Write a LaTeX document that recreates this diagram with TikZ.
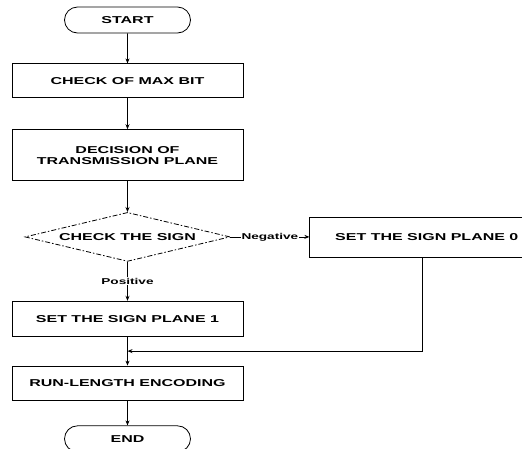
\documentclass[tikz,border=0pt]{standalone}
\usepackage{fontspec}
\newfontfamily\flowfont{Liberation Sans}[FakeStretch=1.6]
\usetikzlibrary{shapes.geometric, shapes.misc, arrows.meta, positioning, calc}

\begin{document}
\begin{tikzpicture}[
  node distance=30pt,
  every node/.style={font=\flowfont\bfseries\fontsize{10}{11}\selectfont},
  term/.style={rounded rectangle, draw, line width=0.8pt,
               minimum width=126pt, minimum height=26pt, inner sep=0pt},
  box/.style={rectangle, draw, line width=0.8pt, align=center,
              minimum width=231pt, minimum height=34pt, inner sep=0pt},
  test/.style={diamond, draw, line width=0.8pt, aspect=4.18, inner sep=0pt,
               minimum width=205pt, minimum height=49pt,
               dash pattern=on 5pt off 2pt on 1.5pt off 2pt},
  lbl/.style={font=\flowfont\bfseries\fontsize{8.5}{10}\selectfont,
              fill=white, inner sep=1pt},
  arr/.style={-{Stealth[length=5pt, width=4pt]}, line width=0.8pt}
]
  \useasboundingbox (0,0) rectangle (522pt,-448pt);
  \node[term] (start) at (127.5pt,-20pt) {START};
  \node[box, below=30pt of start] (maxbit) {CHECK OF MAX BIT};
  \node[box, below=31pt of maxbit, minimum height=51pt] (plane)
    {DECISION OF\\TRANSMISSION PLANE};
  \node[test, below=31pt of plane] (sign) {CHECK THE SIGN};
  \node[box, below=39pt of sign, minimum height=35pt] (plane1) {SET THE SIGN PLANE 1};
  \node[box, below=29pt of plane1] (rle) {RUN-LENGTH ENCODING};
  \node[term, below=25pt of rle] (stop) {END};
  \node[box, right=79pt of sign, minimum width=234pt, minimum height=40pt] (plane0)
    {SET THE SIGN PLANE 0};
  \coordinate (merge) at ($(plane1.south)!0.5!(rle.north)$);

  \draw[arr] (start)--(maxbit);
  \draw[arr] (maxbit)--(plane);
  \draw[arr] (plane)--(sign);
  \draw[arr] (sign.east)--(plane0.west) node[lbl, midway]{Negative};
  \draw[arr] (sign.south)--(plane1.north) node[lbl, midway]{Positive};
  \draw[arr] (plane1)--(rle);
  \draw[arr] ([xshift=-4pt]plane0.south) |- (merge);
  \draw[arr] (rle)--(stop);
\end{tikzpicture}
\end{document}
